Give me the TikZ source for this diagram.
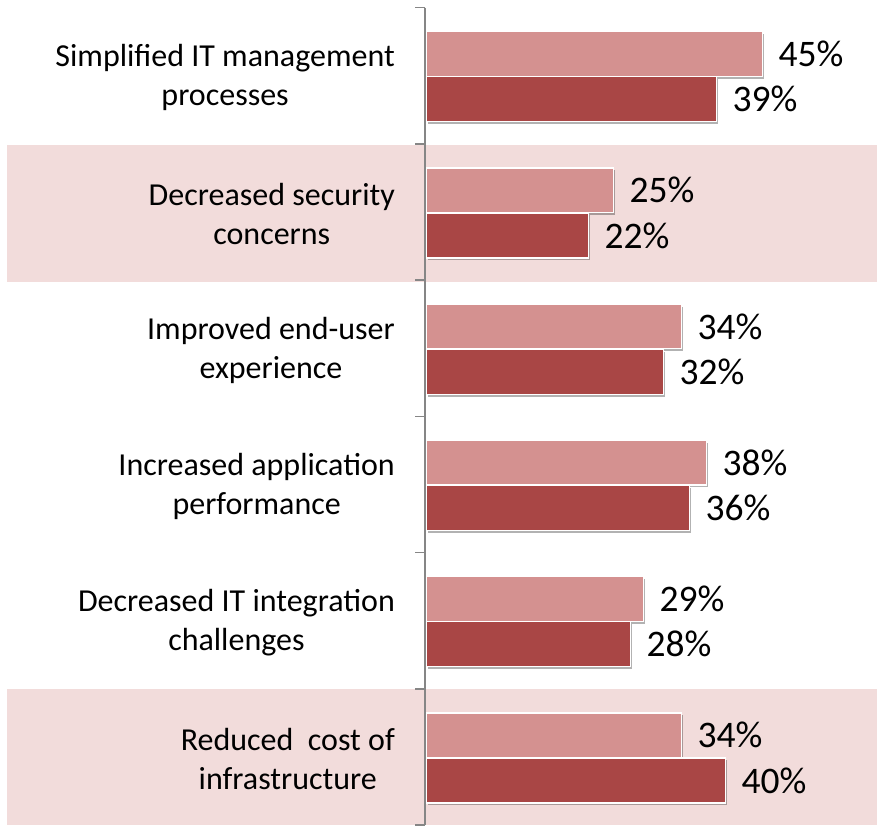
\documentclass[tikz,border=0pt]{standalone}
\usepackage{fontspec}
\setmainfont{Carlito}
\usetikzlibrary{shadows}
\definecolor{bandcol}{HTML}{F2DCDB}
\definecolor{lightbar}{HTML}{D49190}
\definecolor{darkbar}{HTML}{A94645}
\definecolor{axisgray}{HTML}{868686}
\tikzset{
  barbase/.style={draw=white, line width=1.3pt, inner sep=0pt, anchor=north west,
    drop shadow={shadow xshift=1.5pt, shadow yshift=-2.5pt, opacity=.3, fill=black}},
  lbar/.style={barbase, fill=lightbar, minimum height=44.5pt},
  dbar/.style={barbase, fill=darkbar, minimum height=45pt},
  pct/.style={inner sep=0pt, anchor=west, font=\fontsize{37.5}{42}\selectfont},
  catlabel/.style={inner sep=0pt, anchor=east, align=center, font=\fontsize{32}{39}\selectfont},
  axisline/.style={draw=axisgray, line width=1.5pt},
}
\begin{document}
\begin{tikzpicture}[x=1pt,y=-1pt]
\useasboundingbox (0,0) rectangle (877,825);
\fill[bandcol] (7,145) rectangle (877,282);
\fill[bandcol] (7,689) rectangle (877,825);
% index / value A / length A / value B / length B / label
\foreach \i/\a/\la/\b/\lb/\lab in {
  1/45/336/39/290/{Simplified IT management\\processes},
  2/25/187/22/162/{Decreased security\\concerns},
  3/34/255/32/237/{Improved end-user\\experience},
  4/38/280/36/263/{Increased application\\performance},
  5/29/217/28/204/{Decreased IT integration\\challenges},
  6/34/255/40/299/{Reduced\ \ cost of\\infrastructure}}{
  \pgfmathsetmacro{\g}{7.5+136.25*(\i-1)}
  \node[lbar, minimum width={\la pt}] (L\i) at (426,\g+23.5) {};
  \node[dbar, minimum width={\lb pt}] (D\i) at (426,\g+68.5) {};
  \node[pct] (pL\i) at ([xshift=15pt]L\i.east) {\a\%};
  \node[pct] (pD\i) at ([xshift=15pt]D\i.east) {\b\%};
  \node[catlabel] (c\i) at (395,\g+70) {\lab};
}
\draw[axisline] (425,7.5) -- (425,825);
\foreach \k in {0,...,6}{
  \draw[axisline] (415,7.5+136.25*\k) -- (425,7.5+136.25*\k);
}
\end{tikzpicture}
\end{document}
